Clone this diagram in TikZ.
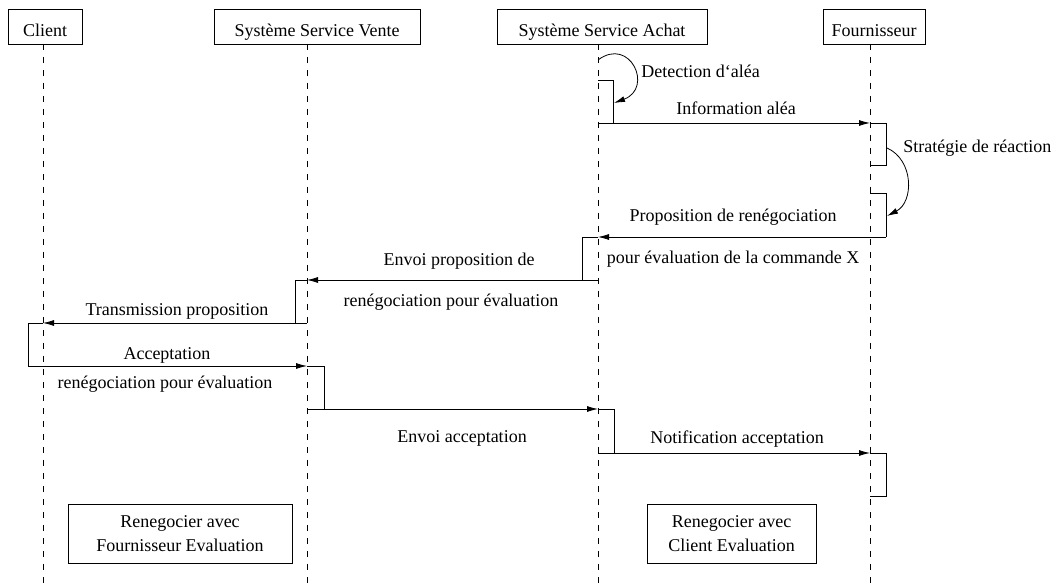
\documentclass[tikz,border=0pt]{standalone}
\usepackage{fontspec}
\setmainfont{Liberation Serif}
\usetikzlibrary{arrows.meta}
\begin{document}
\begin{tikzpicture}[x=1pt,y=-1pt,line width=0.8pt,
  font=\fontsize{18}{24}\selectfont,
  head/.style={draw,minimum height=35pt,inner sep=0pt,text height=20pt,text depth=0pt},
  life/.style={dash pattern=on 6pt off 7pt,line width=0.7pt},
  msg/.style={-{Latex[length=11pt,width=6pt]}},
  lbl/.style={inner sep=0pt,anchor=center},
  notebox/.style={draw,minimum height=59pt,align=center,inner sep=0pt}]
\useasboundingbox (0,0) rectangle (1058,585);
% headers
\node[head,minimum width=74pt]  (client) at (45,26.5)  {Client};
\node[head,minimum width=206pt] (vente)  at (317,26.5) {Système Service Vente};
\node[head,minimum width=210pt] (achat)  at (602,26.5) {Système Service Achat};
\node[head,minimum width=102pt] (fourn)  at (874,26.5) {Fournisseur};
% lifelines
\coordinate (cT) at (43,44);  \coordinate (cB) at (43,585);
\coordinate (vT) at (307,44); \coordinate (vB) at (307,585);
\coordinate (aT) at (598,44); \coordinate (aB) at (598,585);
\coordinate (fT) at (870,44); \coordinate (fB) at (870,585);
\draw[life] (cT) -- (cB);
\draw[life] (vT) -- (vB);
\draw[life] (aT) -- (aB);
\draw[life] (fT) -- (fB);
% self call on Achat
\coordinate (s1a) at (598,60);
\coordinate (s1b) at (614,103);
\draw[msg] (s1a) .. controls (630,36) and (654,88) .. (s1b);
\node[lbl,anchor=west] at (641,71) {Detection d‘aléa};
% activation Achat 1
\coordinate (a1t) at (598,80);
\coordinate (m1s) at (598,123);
\coordinate (m1e) at (870,123);
\draw (a1t) -| (613,123) -- (m1s);
\draw[msg] (m1s) -- (m1e);
\node[lbl] at (736,108) {Information aléa};
% Fournisseur activation 1
\coordinate (f1b) at (870,165);
\draw (m1e) -| (886,165) -- (f1b);
% self call on Fournisseur
\coordinate (s2a) at (887,148);
\coordinate (s2b) at (887,216);
\draw[msg] (s2a) .. controls (914,160) and (914,202) .. (s2b);
\node[lbl,anchor=west] at (903,148) {Stratégie de réaction};
% Fournisseur activation 2
\coordinate (f2t) at (870,193);
\coordinate (m2s) at (886,237);
\coordinate (m2e) at (598,237);
\draw (f2t) -| (m2s);
\draw[msg] (m2s) -- (m2e);
\node[lbl] at (733,217) {Proposition de renégociation};
\node[lbl] at (733,259) {pour évaluation de la commande X};
% Achat activation 2
\coordinate (m3s) at (598,280);
\coordinate (m3e) at (307,280);
\draw (m2e) -| (582,280) -- (m3s);
\draw[msg] (m3s) -- (m3e);
\node[lbl] at (459,261) {Envoi proposition de};
\node[lbl] at (451,302) {renégociation pour évaluation};
% Vente activation 1
\coordinate (m4s) at (307,323);
\coordinate (m4e) at (43,323);
\draw (m3e) -| (295,323) -- (m4s);
\draw[msg] (m4s) -- (m4e);
\node[lbl] at (177,311) {Transmission proposition};
% Client activation
\coordinate (m5s) at (43,366);
\coordinate (m5e) at (307,366);
\draw (m4e) -| (28,366) -- (m5s);
\draw[msg] (m5s) -- (m5e);
\node[lbl] at (167,355) {Acceptation};
\node[lbl] at (165,384) {renégociation pour évaluation};
% Vente activation 2
\coordinate (m6s) at (307,409);
\coordinate (m6e) at (598,409);
\draw (m5e) -| (324,409) -- (m6s);
\draw[msg] (m6s) -- (m6e);
\node[lbl] at (462,438) {Envoi acceptation};
% Achat activation 3
\coordinate (m7s) at (598,453);
\coordinate (m7e) at (870,453);
\draw (m6e) -| (614,453) -- (m7s);
\draw[msg] (m7s) -- (m7e);
\node[lbl] at (737,439) {Notification acceptation};
% Fournisseur activation 3
\coordinate (f3b) at (870,496);
\draw (m7e) -| (886,496) -- (f3b);
% notes
\node[notebox,minimum width=224pt,fill=white] (n1) at (180,533.5) {Renegocier avec\\Fournisseur Evaluation};
\node[notebox,minimum width=169pt,fill=white] (n2) at (731.5,533.5) {Renegocier avec\\Client Evaluation};
\end{tikzpicture}
\end{document}
